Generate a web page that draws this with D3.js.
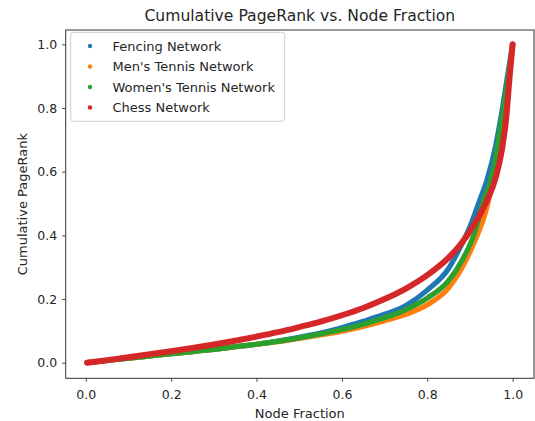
<!DOCTYPE html>
<html>
<head>
<meta charset="utf-8">
<script src="https://cdn.jsdelivr.net/npm/d3@7"></script>
<style>
  body { margin: 0; background: #fff; }
  svg { display: block; font-family: "DejaVu Sans", sans-serif; }
</style>
</head>
<body>
<svg id="chart" width="535" height="421"></svg>
<script>
// series: [node fraction, cumulative pagerank]
const seriesNames = ["Fencing Network", "Men's Tennis Network", "Women's Tennis Network", "Chess Network"];
const seriesColors = ["#1f77b4", "#ff7f0e", "#2ca02c", "#d62728"];

const fencing = [
  [0.003, 0.000], [0.05, 0.007], [0.10, 0.014], [0.15, 0.021], [0.20, 0.028],
  [0.25, 0.035], [0.30, 0.042], [0.35, 0.050], [0.40, 0.058], [0.45, 0.068],
  [0.50, 0.080], [0.55, 0.093], [0.60, 0.110], [0.65, 0.130], [0.70, 0.152],
  [0.75, 0.180], [0.80, 0.228], [0.85, 0.296], [0.88, 0.370], [0.90, 0.427],
  [0.92, 0.500], [0.94, 0.575], [0.96, 0.680], [0.978, 0.815], [0.99, 0.919],
  [1.00, 1.000]
];
const mensTennis = [
  [0.003, 0.000], [0.05, 0.007], [0.10, 0.014], [0.15, 0.021], [0.20, 0.028],
  [0.25, 0.035], [0.30, 0.042], [0.35, 0.050], [0.40, 0.058], [0.45, 0.066],
  [0.50, 0.076], [0.55, 0.087], [0.60, 0.099], [0.65, 0.114], [0.70, 0.132],
  [0.75, 0.152], [0.80, 0.182], [0.85, 0.235], [0.88, 0.295], [0.91, 0.378],
  [0.94, 0.490], [0.96, 0.620], [0.975, 0.750], [0.99, 0.890], [1.00, 1.000]
];
const womensTennis = [
  [0.003, 0.000], [0.05, 0.007], [0.10, 0.014], [0.15, 0.021], [0.20, 0.028],
  [0.25, 0.035], [0.30, 0.042], [0.35, 0.050], [0.40, 0.058], [0.45, 0.067],
  [0.50, 0.078], [0.55, 0.090], [0.60, 0.104], [0.65, 0.121], [0.70, 0.141],
  [0.75, 0.167], [0.80, 0.203], [0.85, 0.258], [0.88, 0.318], [0.91, 0.405],
  [0.93, 0.500], [0.955, 0.605], [0.974, 0.762], [0.99, 0.898], [1.00, 1.000]
];
const chess = [
  [0.003, 0.000], [0.05, 0.008], [0.10, 0.017], [0.15, 0.027], [0.20, 0.036],
  [0.25, 0.046], [0.30, 0.057], [0.35, 0.069], [0.40, 0.082], [0.45, 0.096],
  [0.50, 0.112], [0.55, 0.129], [0.60, 0.149], [0.65, 0.172], [0.70, 0.200],
  [0.75, 0.233], [0.80, 0.275], [0.85, 0.330], [0.88, 0.375], [0.91, 0.435],
  [0.94, 0.510], [0.96, 0.580], [0.975, 0.670], [0.985, 0.770], [0.993, 0.900],
  [1.00, 1.000]
];
const allSeries = [fencing, mensTennis, womensTennis, chess];

const xTicks = [0, 0.2, 0.4, 0.6, 0.8, 1.0];
const yTicks = [0, 0.2, 0.4, 0.6, 0.8, 1.0];

const svg = d3.select("#chart");
const box = { left: 65.7, right: 534, top: 30, bottom: 378.3 };

const x = d3.scaleLinear().domain([-0.047, 1.05]).range([box.left, box.right]);
const y = d3.scaleLinear().domain([-0.049, 1.045]).range([box.bottom, box.top]);

// curves (plotted in order, chess ends on top)
const line = d3.line()
  .x(d => x(d[0]))
  .y(d => y(d[1]))
  .curve(d3.curveMonotoneX);

svg.append("g")
  .selectAll("path")
  .data(allSeries)
  .enter()
  .append("path")
  .attr("d", line)
  .attr("fill", "none")
  .attr("stroke", (d, i) => seriesColors[i])
  .attr("stroke-width", (d, i) => i === 3 ? 6 : 5.2)
  .attr("stroke-linecap", "round")
  .attr("stroke-linejoin", "round");

// axes
const xAxis = d3.axisBottom(x).tickValues(xTicks).tickFormat(d3.format(".1f"))
  .tickSize(3.5).tickPadding(8.5).tickSizeOuter(0);
const yAxis = d3.axisLeft(y).tickValues(yTicks).tickFormat(d3.format(".1f"))
  .tickSize(3.5).tickPadding(5).tickSizeOuter(0);

const gx = svg.append("g").attr("transform", `translate(0,${box.bottom})`).call(xAxis);
const gy = svg.append("g").attr("transform", `translate(${box.left},0)`).call(yAxis);
[gx, gy].forEach(g => {
  g.select(".domain").remove();
  g.selectAll("line").attr("stroke", "#333").attr("stroke-width", 0.9);
  g.selectAll("text").attr("fill", "#262626").style("font-size", "12.5px")
    .style("font-family", "DejaVu Sans");
});

// frame
svg.append("rect")
  .attr("x", box.left).attr("y", box.top)
  .attr("width", box.right - box.left).attr("height", box.bottom - box.top)
  .attr("fill", "none").attr("stroke", "#333").attr("stroke-width", 1);

// title and labels
svg.append("text")
  .attr("x", (box.left + box.right) / 2).attr("y", 21)
  .attr("text-anchor", "middle").attr("fill", "#262626")
  .style("font-size", "15.6px")
  .text("Cumulative PageRank vs. Node Fraction");

svg.append("text")
  .attr("x", (box.left + box.right) / 2).attr("y", 417.5)
  .attr("text-anchor", "middle").attr("fill", "#262626")
  .style("font-size", "13px")
  .text("Node Fraction");

svg.append("text")
  .attr("transform", `translate(27,${(box.top + box.bottom) / 2}) rotate(-90)`)
  .attr("text-anchor", "middle").attr("fill", "#262626")
  .style("font-size", "13px")
  .text("Cumulative PageRank");

// legend
const legend = svg.append("g");
legend.append("rect")
  .attr("x", 70.7).attr("y", 32.3).attr("width", 214).attr("height", 89)
  .attr("rx", 3)
  .attr("fill", "#fff").attr("fill-opacity", 0.8)
  .attr("stroke", "#ccc").attr("stroke-width", 1);

const rows = legend.selectAll("g.row")
  .data(seriesNames)
  .enter()
  .append("g")
  .attr("class", "row")
  .attr("transform", (d, i) => `translate(0,${46 + i * 20.5})`);
rows.append("circle")
  .attr("cx", 90).attr("cy", 0).attr("r", 2.2)
  .attr("fill", (d, i) => seriesColors[i]);
rows.append("text")
  .attr("x", 112.5).attr("dy", "0.36em")
  .attr("fill", "#262626")
  .style("font-size", "13px")
  .text(d => d);
</script>
</body>
</html>
